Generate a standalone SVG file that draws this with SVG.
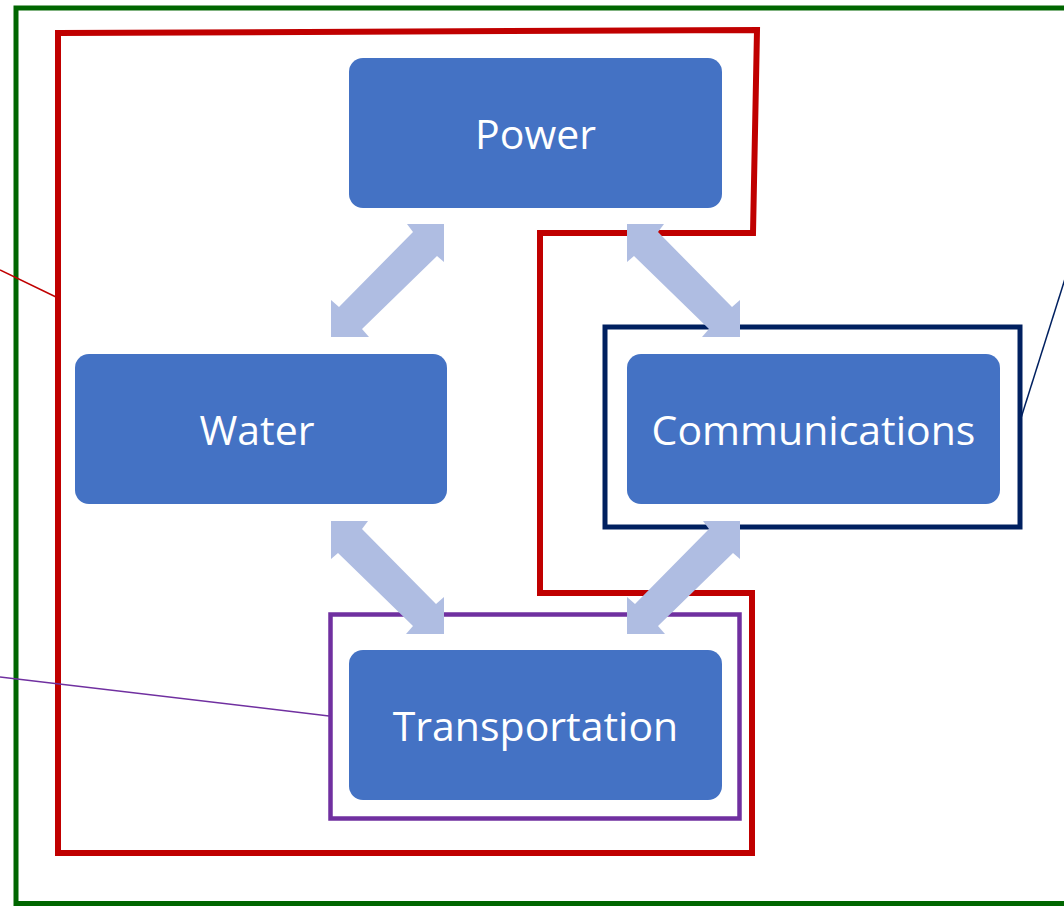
<svg xmlns="http://www.w3.org/2000/svg" xmlns:xlink="http://www.w3.org/1999/xlink" width="1064" height="906" viewBox="0 0 1064 906">
<style>
.node rect{fill:#4472C4;}
.node text{fill:#FFFFFF;font-family:"Open Sans","Liberation Sans",sans-serif;font-size:41px;text-anchor:middle;}
.arrow{fill:#AFBDE2;}
.frame{fill:none;}
.leader{fill:none;stroke-width:1.5;}
</style>
<defs>
<polygon id="arrDiagUp" points="407,224 444,224 444,262 437,256 362,329 369,337 331,337 331,300 339,307 413,232"/>
<polygon id="arrDiagDown" points="664,224 627,224 627,262 634,256 709,329 702,337 740,337 740,300 732,307 658,232"/>
</defs>
<rect width="1064" height="906" fill="#FFFFFF"/>
<g id="frames">
<rect class="frame" x="16" y="8" width="1060" height="895.5" stroke="#006600" stroke-width="5"/>
<polygon class="frame" points="58,33 757,30 753,233 540,233 540,593 752,593 752,853 58,853" stroke="#C00000" stroke-width="6"/>
<rect class="frame" x="330.5" y="614.5" width="409" height="204" stroke="#7030A0" stroke-width="4.5"/>
<rect class="frame" x="605" y="327" width="415" height="200" stroke="#002060" stroke-width="5"/>
</g>
<g id="connectors">
<use xlink:href="#arrDiagUp" class="arrow"/>
<use xlink:href="#arrDiagDown" class="arrow"/>
<use xlink:href="#arrDiagDown" class="arrow" transform="translate(-296,297)"/>
<use xlink:href="#arrDiagUp" class="arrow" transform="translate(296,297)"/>
<line class="leader" x1="0" y1="270" x2="56" y2="297" stroke="#C00000"/>
<line class="leader" x1="0" y1="677" x2="329" y2="716" stroke="#7030A0"/>
<line class="leader" x1="1021" y1="418" x2="1070" y2="263" stroke="#002060"/>
</g>
<g id="node-power" class="node">
<rect x="349" y="58" width="373" height="150" rx="14"/>
<text x="535.5" y="149">Power</text>
</g>
<g id="node-water" class="node">
<rect x="75" y="354" width="372" height="150" rx="14"/>
<text x="257" y="445">Water</text>
</g>
<g id="node-communications" class="node">
<rect x="627" y="354" width="373" height="150" rx="14"/>
<text x="813.5" y="445">Communications</text>
</g>
<g id="node-transportation" class="node">
<rect x="349" y="650" width="373" height="150" rx="14"/>
<text x="535.5" y="741">Transportation</text>
</g>
</svg>
